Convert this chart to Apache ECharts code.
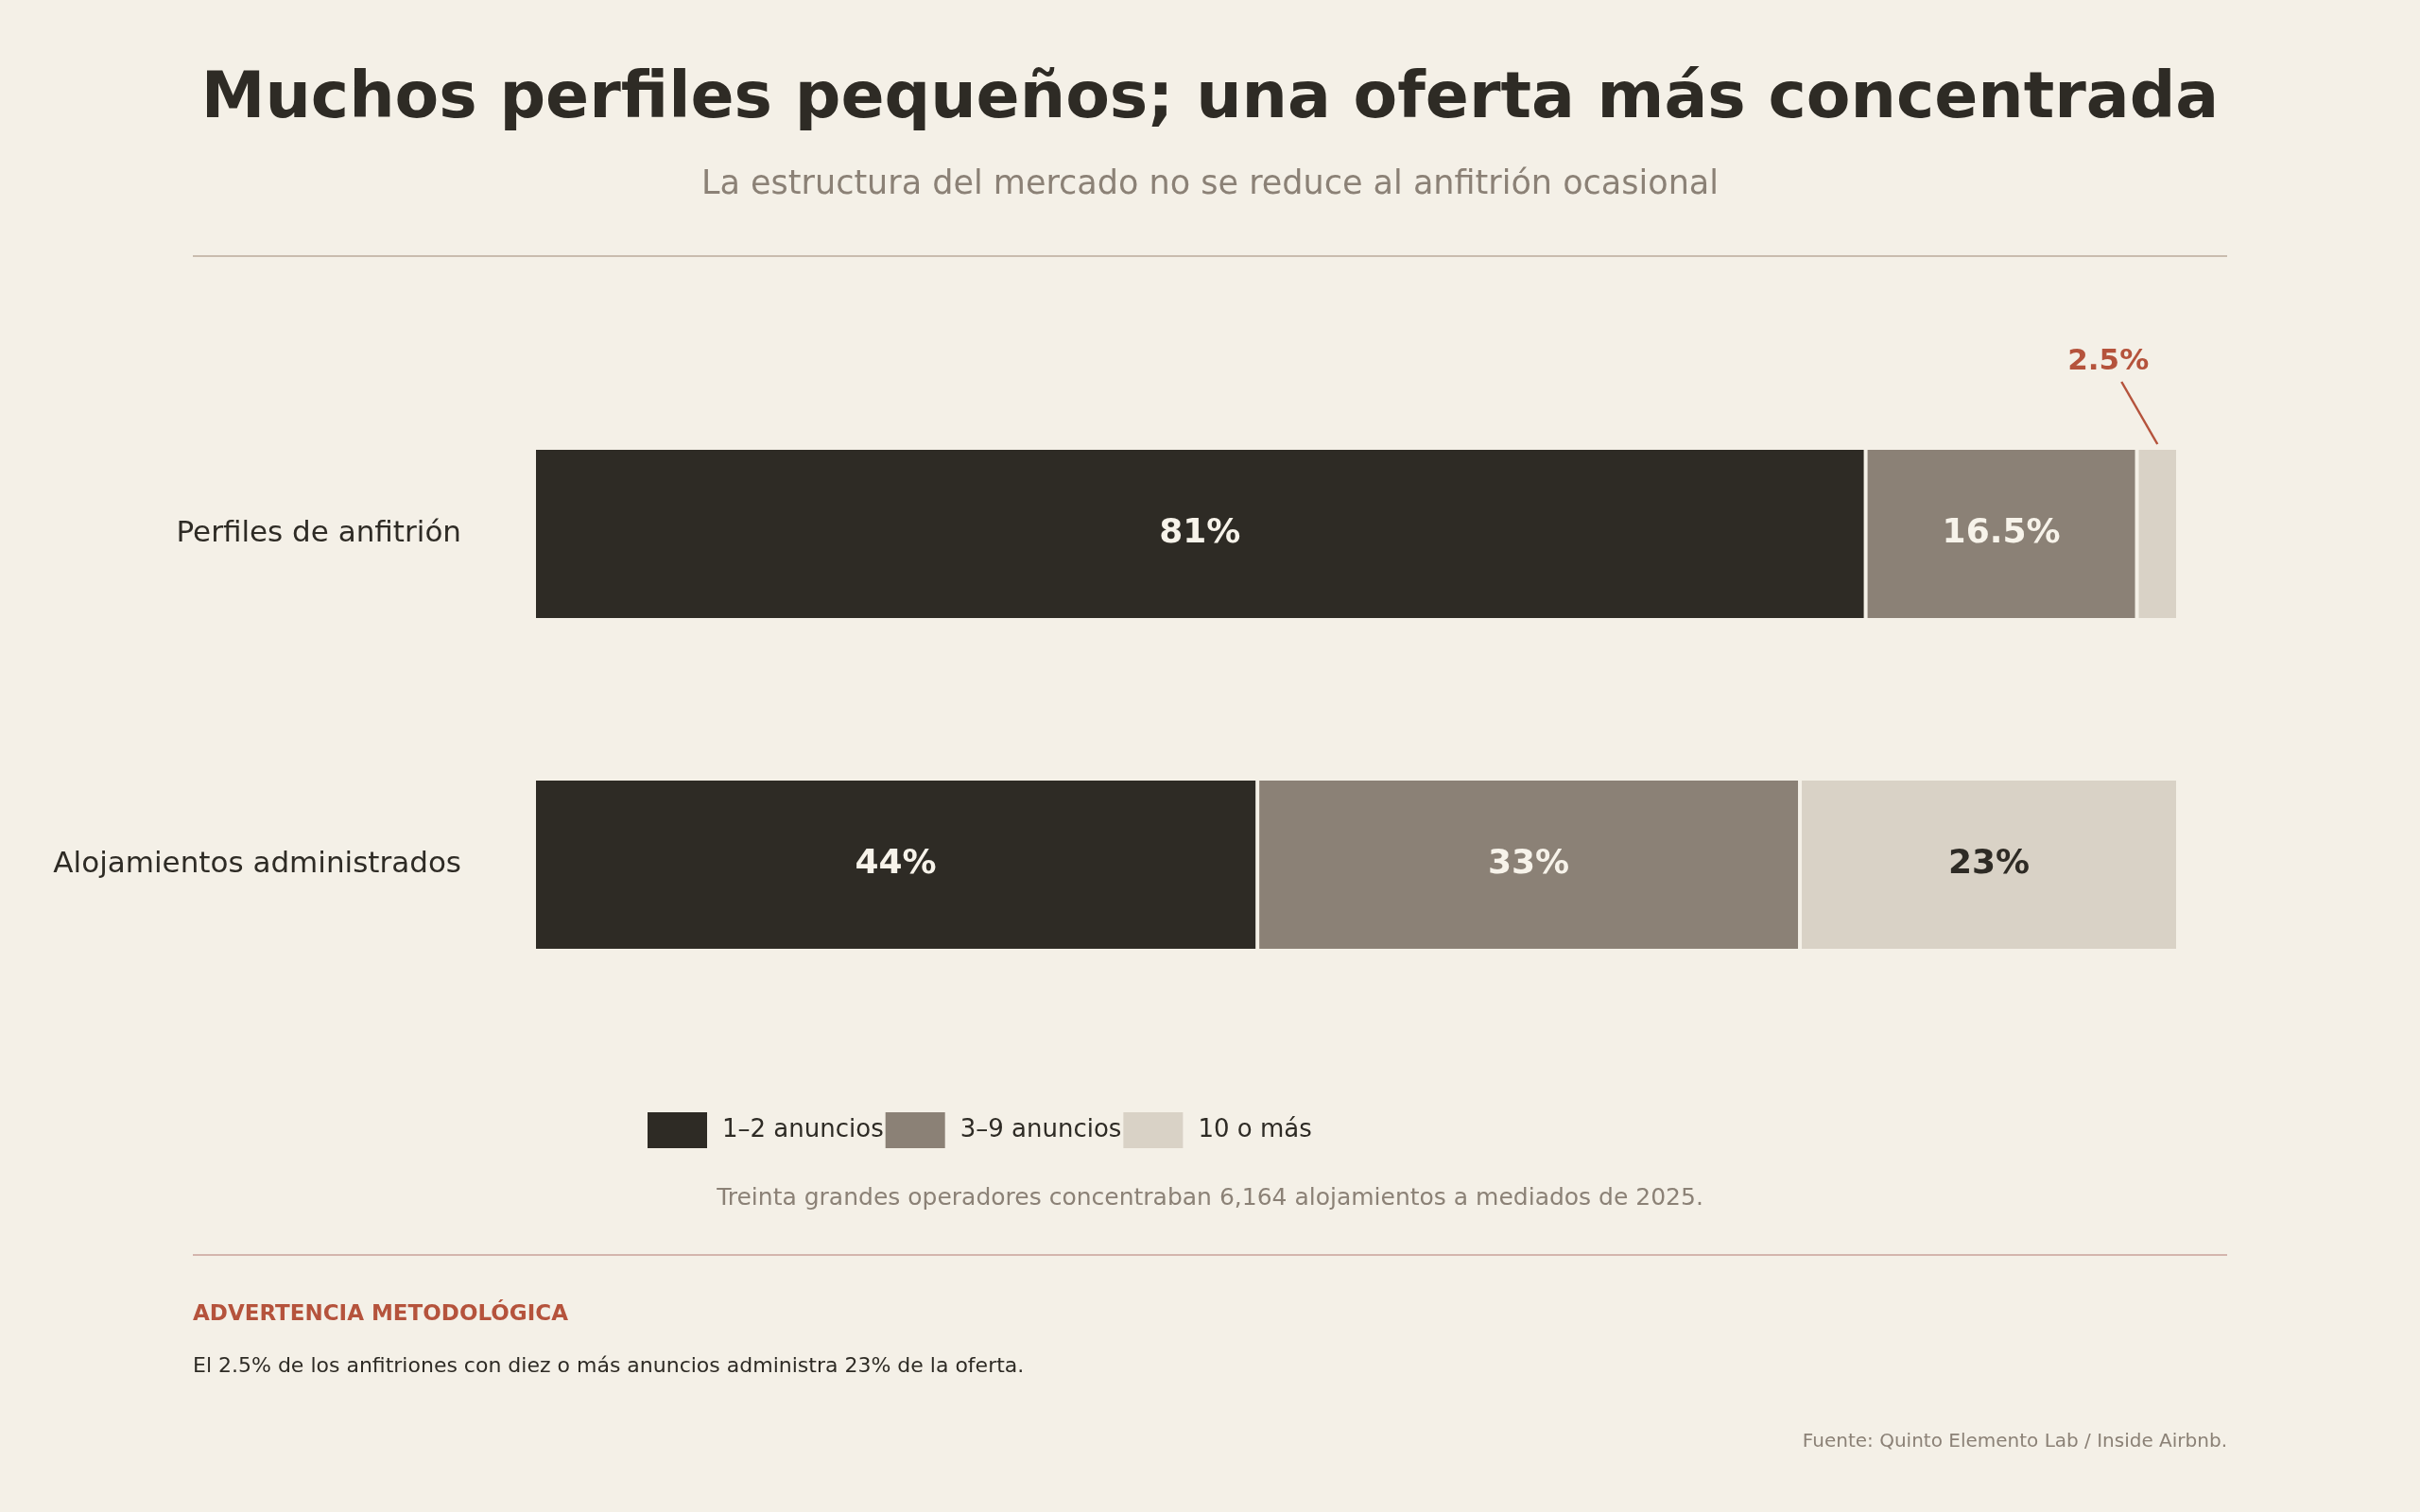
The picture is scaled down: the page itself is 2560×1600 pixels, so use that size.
<!DOCTYPE html>
<html><head><meta charset="utf-8">
<script src="https://cdn.jsdelivr.net/npm/echarts@6/dist/echarts.min.js"></script>
<style>html,body{margin:0;background:#f4f0e7}#c{width:2560px;height:1600px}</style>
</head><body><div id="c"></div>
<script>
const categories = ['Perfiles de anfitrión', 'Alojamientos administrados'];
const seriesNames = ['1–2 anuncios', '3–9 anuncios', '10 o más'];
const small = [81, 44];
const mid = [16.5, 33];
const large = [2.5, 23];
const colors = ['#2e2b25', '#8b8176', '#d9d2c6'];
const labelColors = ['#f7f3ea', '#f7f3ea', '#2e2b25'];
const F = 'DejaVu Sans, sans-serif';
const chart = echarts.init(document.getElementById('c'));
const vals = [small, mid, large];
chart.setOption({
  backgroundColor: '#f4f0e7',
  animation: false,
  grid: {left: 565, right: 256, top: 390, height: 700},
  xAxis: {type: 'value', min: 0, max: 100, show: false},
  yAxis: {type: 'category', data: categories, inverse: true,
    axisLine: {show: false}, axisTick: {show: false},
    axisLabel: {margin: 77, fontSize: 31, color: '#2e2b25', fontFamily: F}},
  legend: {left: 678, top: 1170, itemWidth: 65, itemHeight: 40, itemGap: 0,
    icon: 'rect', data: seriesNames,
    textStyle: {fontSize: 26, color: '#2e2b25', fontFamily: F, width: 437, padding: [0,0,0,10]}},
  series: seriesNames.map((n, i) => ({
    name: n, type: 'bar', stack: 's', barWidth: 182,
    data: vals[i].map((v, j) => ({value: v, label: {show: !(i === 2 && j === 0)}})),
    itemStyle: {color: colors[i], borderColor: '#f4f0e7', borderWidth: 2},
    label: {position: 'inside', fontSize: 36, fontWeight: 'bold', color: labelColors[i],
      fontFamily: F, formatter: p => p.value + '%'}
  }))
});
const annPt = chart.convertToPixel({xAxisIndex: 0, yAxisIndex: 0}, [100 - large[0] / 2, categories[0]]);
const bx = annPt[0], by = annPt[1] - 91;
chart.setOption({graphic: [
  {type: 'text', left: 'center', top: 72, style: {text: 'Muchos perfiles pequeños; una oferta más concentrada', font: 'bold 68px ' + F, fill: '#2e2b25'}},
  {type: 'text', left: 'center', top: 178, style: {text: 'La estructura del mercado no se reduce al anfitrión ocasional', font: '35px ' + F, fill: '#8b8176'}},
  {type: 'line', shape: {x1: 204, y1: 271, x2: 2356, y2: 271}, style: {stroke: '#c9bcae', lineWidth: 2}},
  {type: 'line', shape: {x1: bx - 38, y1: by - 70, x2: bx, y2: by - 4}, style: {stroke: '#b5533c', lineWidth: 2.5}},
  {type: 'text', x: bx - 52, y: by - 76, style: {text: large[0] + '%', font: 'bold 31px ' + F, fill: '#b5533c', align: 'center', verticalAlign: 'bottom'}},
  {type: 'text', left: 'center', top: 1256, style: {text: 'Treinta grandes operadores concentraban 6,164 alojamientos a mediados de 2025.', font: '25px ' + F, fill: '#8b8176'}},
  {type: 'line', shape: {x1: 204, y1: 1328, x2: 2356, y2: 1328}, style: {stroke: '#d4b5ad', lineWidth: 2}},
  {type: 'text', left: 204, top: 1380, style: {text: 'ADVERTENCIA METODOLÓGICA', font: 'bold 23px ' + F, fill: '#b5533c'}},
  {type: 'text', left: 204, top: 1435, style: {text: 'El 2.5% de los anfitriones con diez o más anuncios administra 23% de la oferta.', font: '22px ' + F, fill: '#2e2b25'}},
  {type: 'text', right: 204, top: 1516, style: {text: 'Fuente: Quinto Elemento Lab / Inside Airbnb.', font: '20px ' + F, fill: '#8b8176'}}
]});
</script></body></html>
